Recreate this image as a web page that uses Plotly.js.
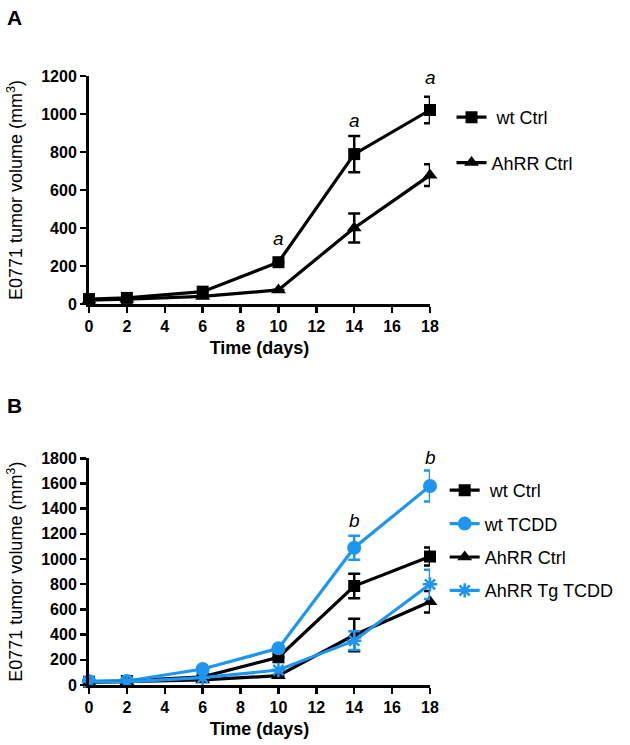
<!DOCTYPE html>
<html>
<head>
<meta charset="utf-8">
<script src="https://cdn.plot.ly/plotly-3.0.1.min.js"></script>
<style>html,body{margin:0;padding:0;background:#fff}#chart{width:630px;height:745px}</style>
</head>
<body>
<div id="chart"></div>
<script>
const days = [0, 2, 6, 10, 14, 18];
const xTicks = [0, 2, 4, 6, 8, 10, 12, 14, 16, 18];

// Panel A
const aWtCtrl = [26, 32, 65, 220, 789, 1021];
const aWtCtrlErr = [0, 0, 0, 0, 95, 70];
const aAhrrCtrl = [20, 25, 40, 74, 400, 678];
const aAhrrCtrlErr = [0, 0, 0, 0, 76, 57];
const aLetters = [{x: 10, y: 345, t: 'a'}, {x: 14, y: 965, t: 'a'}, {x: 18, y: 1190, t: 'a'}];

// Panel B
const bWtCtrl = [26, 32, 65, 220, 786, 1020];
const bWtCtrlErr = [0, 0, 0, 0, 98, 72];
const bWtTcdd = [30, 32, 127, 291, 1090, 1580];
const bWtTcddErr = [0, 0, 0, 0, 95, 123];
const bAhrrCtrl = [20, 25, 40, 74, 397, 661];
const bAhrrCtrlErr = [0, 0, 0, 0, 130, 85];
const bAhrrTg = [25, 25, 58, 119, 352, 799];
const bAhrrTgErr = [0, 0, 0, 0, 75, 117];
const bLetters = [{x: 14, y: 1310, t: 'b'}, {x: 18, y: 1810, t: 'b'}];

const BLACK = '#000000';
const BLUE = '#1E96F0';

function tr(y, err, name, color, symbol, size, xa, ya, leg, grp) {
  const m = {symbol: symbol, size: size, color: color};
  if (symbol === 'asterisk-open') { m.line = {color: color, width: 2.5}; }
  return {
    x: days, y: y, name: name, type: 'scatter', mode: 'lines+markers',
    xaxis: xa, yaxis: ya, legend: leg, legendgroup: grp,
    line: {color: color, width: 3.2},
    marker: m,
    error_y: {type: 'data', array: err, visible: true, color: color, thickness: 2.5, width: 6},
    cliponaxis: false
  };
}

const data = [
  tr(aWtCtrl, aWtCtrlErr, ' wt Ctrl', BLACK, 'square', 12, 'x', 'y', 'legend', 'a1'),
  tr(aAhrrCtrl, aAhrrCtrlErr, 'AhRR Ctrl', BLACK, 'triangle-up', 13, 'x', 'y', 'legend', 'a2'),
  tr(bWtCtrl, bWtCtrlErr, ' wt Ctrl', BLACK, 'square', 12, 'x2', 'y2', 'legend2', 'b1'),
  tr(bWtTcdd, bWtTcddErr, 'wt TCDD', BLUE, 'circle', 14, 'x2', 'y2', 'legend2', 'b2'),
  tr(bAhrrCtrl, bAhrrCtrlErr, 'AhRR Ctrl', BLACK, 'triangle-up', 13, 'x2', 'y2', 'legend2', 'b3'),
  tr(bAhrrTg, bAhrrTgErr, 'AhRR Tg TCDD', BLUE, 'asterisk-open', 12, 'x2', 'y2', 'legend2', 'b4')
];

const tickFont = {family: 'Liberation Sans, Arial, sans-serif', size: 16, color: '#000', weight: 'bold'};
function xax(anchor) {
  return {
    anchor: anchor, domain: [0, 1], range: [0, 18], tickvals: xTicks, ticktext: xTicks.map(String),
    showline: true, linewidth: 3, linecolor: '#000', ticks: 'outside', ticklen: 6, tickwidth: 2.5, tickcolor: '#000',
    showgrid: false, zeroline: false, tickfont: tickFont,
    title: {text: '<b>Time (days)</b>', font: {family: 'Liberation Sans, Arial, sans-serif', size: 18, color: '#000'}, standoff: 8}
  };
}
function yax(anchor, dom, max, dt) {
  return {
    anchor: anchor, domain: dom, range: [0, max], dtick: dt, tick0: 0,
    showline: true, linewidth: 3, linecolor: '#000', ticks: 'outside', ticklen: 6, tickwidth: 2.5, tickcolor: '#000',
    showgrid: false, zeroline: false, tickfont: tickFont,
    title: {text: 'E0771 tumor volume (mm<sup>3</sup>)', font: {family: 'Liberation Sans, Arial, sans-serif', size: 18, color: '#000'}, standoff: 14}
  };
}

const annFont = {family: 'Liberation Sans, Arial, sans-serif', size: 19, color: '#000', style: 'italic'};
const annotations = [];
aLetters.forEach(l => annotations.push({x: l.x, y: l.y / 1200, xref: 'x', yref: 'y domain', xanchor: 'center', yanchor: 'middle', text: '<i>' + l.t + '</i>', showarrow: false, font: annFont}));
bLetters.forEach(l => annotations.push({x: l.x, y: l.y / 1800, xref: 'x2', yref: 'y2 domain', xanchor: 'center', yanchor: 'middle', text: '<i>' + l.t + '</i>', showarrow: false, font: annFont}));
annotations.push({x: -84/342, y: 1 + 58/609, xref: 'paper', yref: 'paper', xanchor: 'left', yanchor: 'middle', text: '<b>A</b>', showarrow: false, font: {family: 'Liberation Sans, Arial, sans-serif', size: 21, color: '#000'}});
annotations.push({x: -84/342, y: 1 - 329/609, xref: 'paper', yref: 'paper', xanchor: 'left', yanchor: 'middle', text: '<b>B</b>', showarrow: false, font: {family: 'Liberation Sans, Arial, sans-serif', size: 21, color: '#000'}});

const legFont = {family: 'Liberation Sans, Arial, sans-serif', size: 18, color: '#000'};
const layout = {
  width: 630, height: 745,
  margin: {l: 89, r: 199, t: 76, b: 60},
  paper_bgcolor: '#fff', plot_bgcolor: '#fff',
  showlegend: true,
  xaxis: xax('y'),
  yaxis: yax('x', [1 - 228/609, 1], 1200, 200),
  xaxis2: xax('y2'),
  yaxis2: yax('x2', [0, 1 - 382.3/609], 1800, 200),
  legend: {x: 1.06, y: 1 - 23/609, xanchor: 'left', yanchor: 'top', font: legFont, tracegroupgap: 19, bgcolor: 'rgba(0,0,0,0)'},
  legend2: {x: 1.04, y: 1 - 396/609, xanchor: 'left', yanchor: 'top', font: legFont, tracegroupgap: 7, bgcolor: 'rgba(0,0,0,0)', traceorder: 'grouped'},
  annotations: annotations
};

Plotly.newPlot('chart', data, layout, {displayModeBar: false, staticPlot: true});
</script>
</body>
</html>
